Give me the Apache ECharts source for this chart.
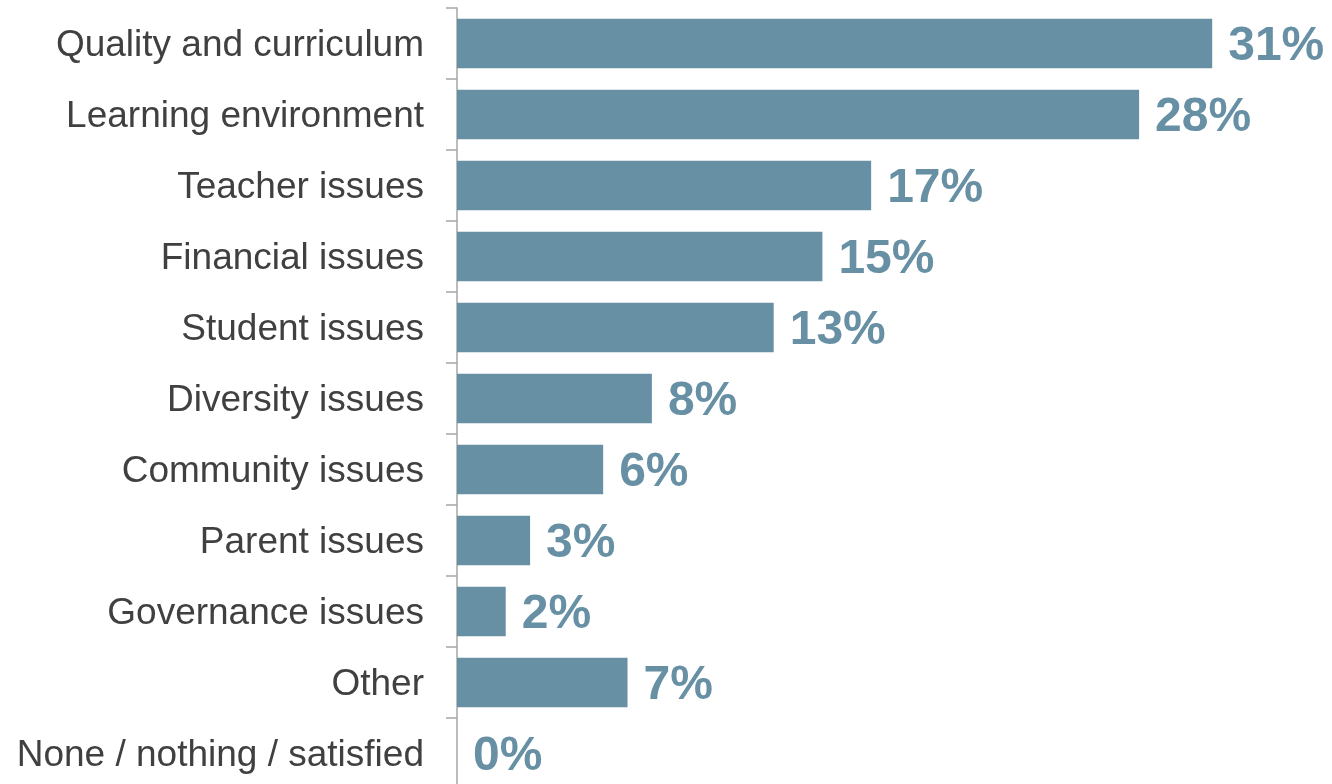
<!DOCTYPE html>
<html>
<head>
<meta charset="utf-8">
<script src="https://cdn.jsdelivr.net/npm/echarts@6/dist/echarts.min.js"></script>
<style>html,body{margin:0;padding:0;background:#fff;}#c{width:1332px;height:784px;}</style>
</head>
<body>
<div id="c"></div>
<script>
const categories = ["Quality and curriculum","Learning environment","Teacher issues","Financial issues","Student issues","Diversity issues","Community issues","Parent issues","Governance issues","Other","None / nothing / satisfied"];
const values = [31,28,17,15,13,8,6,3,2,7,0];

const chart = echarts.init(document.getElementById('c'), null, {renderer:'canvas'});
chart.setOption({
  animation:false,
  grid:{left:457, top:8, width:877, height:781, containLabel:false, outerBoundsMode:'none'},
  xAxis:{type:'value', min:0, max:36, show:false},
  yAxis:{
    type:'category', data:categories, inverse:true,
    axisLine:{show:true, lineStyle:{color:'#A6A6A6', width:1.5}},
    axisTick:{show:true, length:11, lineStyle:{color:'#A6A6A6', width:1.5}},
    axisLabel:{
      margin:33, color:'#404040', fontSize:37, fontFamily:'Liberation Sans, Arial, sans-serif',
      formatter: v => '{a|' + v + '}',
      rich:{a:{color:'#404040', fontSize:37, fontFamily:'Liberation Sans, Arial, sans-serif', padding:[5,0,0,0]}}
    },
    splitLine:{show:false}
  },
  series:[{
    type:'bar', data:values, barCategoryGap:'30%',
    itemStyle:{color:'#6890A5'},
    label:{show:true, position:'right', distance:16, offset:[0,3], formatter:'{c}%', color:'#6890A5', fontSize:48, fontWeight:'bold', fontFamily:'Liberation Sans, Arial, sans-serif'}
  }]
});
</script>
</body>
</html>
